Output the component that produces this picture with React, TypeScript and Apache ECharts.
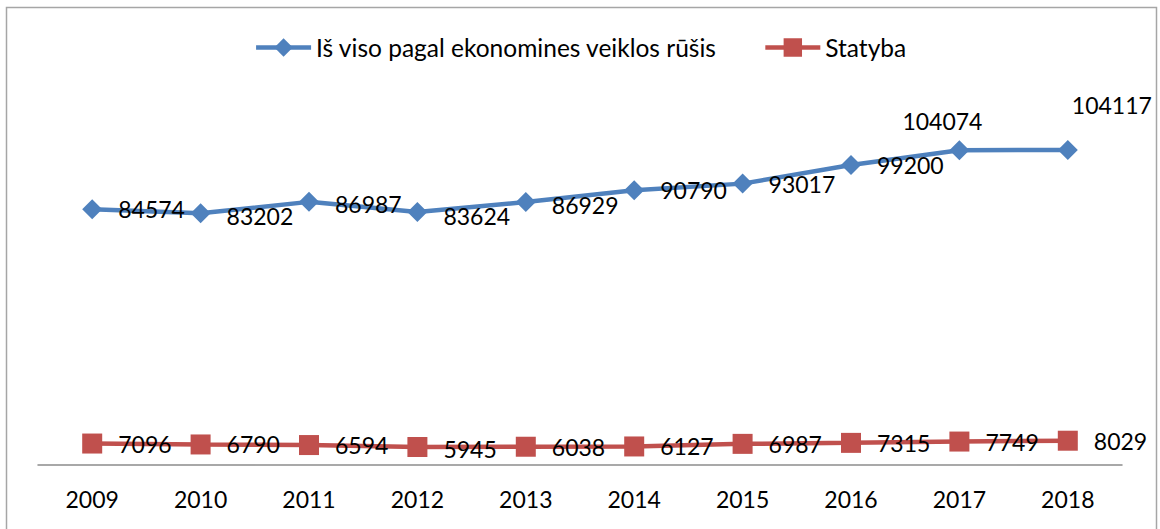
import React, { useEffect, useRef } from "react";
import * as echarts from "echarts";

// Years on the category axis
const years = ["2009", "2010", "2011", "2012", "2013", "2014", "2015", "2016", "2017", "2018"];

// Employed persons, all economic activities
const totalValues = [84574, 83202, 86987, 83624, 86929, 90790, 93017, 99200, 104074, 104117];

// Employed persons, construction
const constructionValues = [7096, 6790, 6594, 5945, 6038, 6127, 6987, 7315, 7749, 8029];

const seriesNames = ["Iš viso pagal ekonomines veiklos rūšis", "Statyba"];

const FONT = "Lato, 'Open Sans', sans-serif";
const BLUE = "#4F81BD";
const RED = "#C0504D";

// Individual label nudges (pixels) keyed by point index
const totalLabelShift: Record<number, [number, number]> = {
  1: [0, 3],
  2: [0, 2],
  3: [0, 4],
  4: [0, 3],
  8: [-83, -29],
  9: [-22, -45],
};
const constructionLabelShift: Record<number, [number, number]> = {
  3: [0, 2],
};

function withLabels(values: number[], shifts: Record<number, [number, number]>) {
  return values.map((v, i) =>
    shifts[i] ? { value: v, label: { offset: shifts[i] } } : v
  );
}

export default function App() {
  const ref = useRef<HTMLDivElement>(null);

  useEffect(() => {
    if (!ref.current) return;
    const chart = echarts.init(ref.current, undefined, { renderer: "svg" });

    const labelStyle = {
      show: true,
      position: "right" as const,
      distance: 16,
      color: "#000",
      fontFamily: FONT,
      fontSize: 23,
    };

    chart.setOption({
      animation: false,
      backgroundColor: "#fff",
      graphic: [
        {
          type: "rect",
          silent: true,
          shape: { x: 6.5, y: 7.5, width: 1150, height: 600 },
          style: { fill: "none", stroke: "#a6a6a6", lineWidth: 1.5 },
        },
      ],
      legend: {
        left: "center",
        top: 35,
        padding: 0,
        itemWidth: 55,
        itemHeight: 23,
        itemGap: 46,
        lineStyle: { width: 4.5 },
        textStyle: { color: "#000", fontFamily: FONT, fontSize: 24.5 },
        data: seriesNames,
      },
      grid: { left: 38, right: 38, top: 102, bottom: 64 },
      xAxis: {
        type: "category",
        data: years,
        boundaryGap: true,
        axisLine: { lineStyle: { color: "#8c8c8c", width: 1.5 } },
        axisTick: { show: false },
        axisLabel: { color: "#000", fontFamily: FONT, fontSize: 23, margin: 22 },
      },
      yAxis: {
        type: "value",
        min: 0,
        max: 120000,
        show: false,
        splitLine: { show: false },
      },
      series: [
        {
          name: seriesNames[0],
          type: "line",
          data: withLabels(totalValues, totalLabelShift),
          symbol: "diamond",
          symbolSize: 20,
          itemStyle: { color: BLUE },
          lineStyle: { color: BLUE, width: 4.5 },
          label: labelStyle,
          z: 3,
        },
        {
          name: seriesNames[1],
          type: "line",
          data: withLabels(constructionValues, constructionLabelShift),
          symbol: "rect",
          symbolSize: 20,
          itemStyle: { color: RED },
          lineStyle: { color: RED, width: 4.5 },
          label: labelStyle,
          z: 3,
        },
      ],
    });

    return () => chart.dispose();
  }, []);

  return (
    <div
      ref={ref}
      style={{ position: "fixed", left: 0, top: 0, width: 1160, height: 529 }}
    />
  );
}
